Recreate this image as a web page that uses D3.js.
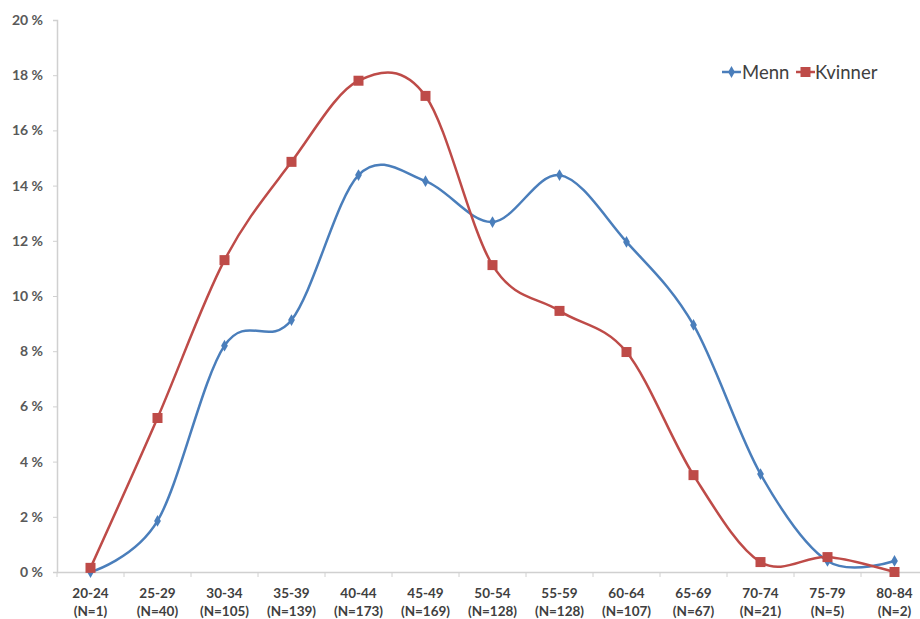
<!DOCTYPE html>
<html><head><meta charset="utf-8">
<script src="https://cdn.jsdelivr.net/npm/d3@7"></script>
<style>body{margin:0;background:#fff;} svg{display:block;}</style>
</head><body>
<script>
const categories = ["20-24","25-29","30-34","35-39","40-44","45-49","50-54","55-59","60-64","65-69","70-74","75-79","80-84"];
const counts = ["(N=1)","(N=40)","(N=105)","(N=139)","(N=173)","(N=169)","(N=128)","(N=128)","(N=107)","(N=67)","(N=21)","(N=5)","(N=2)"];
const menn = [0.0, 1.85, 8.2, 9.13, 14.38, 14.16, 12.68, 14.38, 11.96, 8.95, 3.55, 0.4, 0.4];
const kvinner = [0.15, 5.58, 11.3, 14.86, 17.8, 17.25, 11.12, 9.46, 7.97, 3.51, 0.36, 0.54, 0.0];
const yTicks = [0,2,4,6,8,10,12,14,16,18,20];
const seriesNames = ["Menn","Kvinner"];
const colors = ["#4A7EBB","#BE4B48"];

const W=920,H=619;
const svg=d3.select("body").append("svg").attr("width",W).attr("height",H);
const mLeft=57, mTop=20, mBottom=572, bandW=67;
const x=d3.scaleBand().domain(categories).range([mLeft,mLeft+bandW*categories.length]).padding(0);
const y=d3.scaleLinear().domain([0,20]).range([mBottom,mTop]);
const font="Lato, 'Open Sans', sans-serif";

// y axis
const ya=svg.append("g").attr("transform",`translate(${mLeft},0)`)
  .call(d3.axisLeft(y).tickValues(yTicks).tickSize(4).tickPadding(10).tickFormat(d=>d+" %"));
ya.select(".domain").attr("stroke","#d0d0d0").attr("stroke-width",1.5);
ya.selectAll(".tick line").attr("stroke","#d0d0d0");
ya.selectAll("text").attr("font-family",font).attr("font-size",14).attr("font-weight","bold").attr("fill","#595959");

// x axis
const xa=svg.append("g").attr("transform",`translate(0,${mBottom})`)
  .call(d3.axisBottom(x).tickSize(0).tickFormat(""));
xa.select(".domain").attr("stroke","#d0d0d0").attr("stroke-width",1.5);
xa.selectAll(".bt").data(d3.range(categories.length+1)).enter().append("line")
  .attr("x1",i=>mLeft+i*bandW).attr("x2",i=>mLeft+i*bandW).attr("y1",0).attr("y2",5).attr("stroke","#d0d0d0");
const xl=svg.append("g");
categories.forEach((c,i)=>{
  const cx=x(c)+x.bandwidth()/2;
  xl.append("text").attr("x",cx).attr("y",598).attr("text-anchor","middle")
    .attr("font-family",font).attr("font-size",13.5).attr("font-weight","bold").attr("fill","#404040").text(c);
  xl.append("text").attr("x",cx).attr("y",616).attr("text-anchor","middle")
    .attr("font-family",font).attr("font-size",13.5).attr("font-weight","bold").attr("fill","#404040").text(counts[i]);
});

const cx=i=>x(categories[i])+x.bandwidth()/2;
const line=d3.line().x((d,i)=>cx(i)).y(d=>y(d)).curve(d3.curveCardinal.tension(0));
[menn,kvinner].forEach((data,s)=>{
  svg.append("path").attr("d",line(data)).attr("fill","none").attr("stroke",colors[s]).attr("stroke-width",2.5);
});
// markers
svg.append("g").selectAll("path").data(menn).enter().append("path")
  .attr("d",d3.symbol(d3.symbolDiamond,40)()).attr("transform",(d,i)=>`translate(${cx(i)},${y(d)})`).attr("fill",colors[0]);
svg.append("g").selectAll("rect").data(kvinner).enter().append("rect")
  .attr("x",(d,i)=>cx(i)-5).attr("y",d=>y(d)-5).attr("width",10).attr("height",10).attr("fill",colors[1]);

// legend
const lg=svg.append("g").attr("font-family",font).attr("font-size",18.5).attr("fill","#404040");
lg.append("line").attr("x1",722).attr("x2",741).attr("y1",72).attr("y2",72).attr("stroke",colors[0]).attr("stroke-width",2.5);
lg.append("path").attr("d",d3.symbol(d3.symbolDiamond,40)()).attr("transform","translate(731.5,72)").attr("fill",colors[0]);
lg.append("text").attr("x",742).attr("y",78.5).text(seriesNames[0]);
lg.append("line").attr("x1",796).attr("x2",815).attr("y1",72).attr("y2",72).attr("stroke",colors[1]).attr("stroke-width",2.5);
lg.append("rect").attr("x",800.5).attr("y",67).attr("width",10).attr("height",10).attr("fill",colors[1]);
lg.append("text").attr("x",815).attr("y",78.5).text(seriesNames[1]);
</script>
</body></html>
